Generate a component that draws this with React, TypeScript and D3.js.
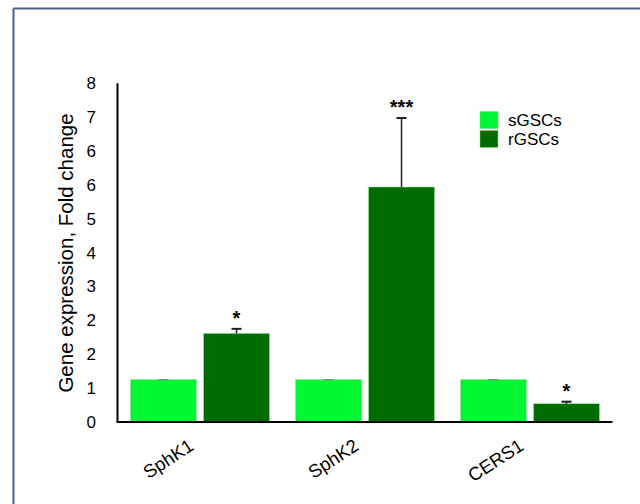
import React from "react";
import * as d3 from "d3";

const categories = ["SphK1", "SphK2", "CERS1"];
const seriesNames = ["sGSCs", "rGSCs"];
const sValues = [1.0, 1.0, 1.0];
const sErrors = [0.0, 0.0, 0.0];
const rValues = [2.09, 5.55, 0.43];
const rErrors = [0.11, 1.63, 0.05];
const rStars = ["*", "***", "*"];
const tickLabels = ["0", "1", "2", "2", "3", "4", "5", "6", "6", "7", "8"];
const tickStep = 0.8;
const colors = ["#00f731", "#006b00"];

const W = 640;
const H = 504;
const x0 = 117.5;
const x1 = 612.5;
const yTop = 83.3;
const yBot = 422;
const font = "'Liberation Sans', Arial, Helvetica, sans-serif";

export default function App() {
  const y = d3.scaleLinear().domain([0, 8]).range([yBot, yTop]);
  const xg = d3.scaleBand<string>().domain(categories).range([x0, x1]).paddingInner(0.159).paddingOuter(0.0795);
  const xs = d3.scaleBand<string>().domain(seriesNames).range([0, xg.bandwidth()]).paddingInner(0.1);
  const bw = xs.bandwidth();

  const seriesData = [
    { name: seriesNames[0], values: sValues, errors: sErrors, stars: null as string[] | null },
    { name: seriesNames[1], values: rValues, errors: rErrors, stars: rStars },
  ];

  return (
    <svg width={W} height={H} style={{ position: "absolute", left: 0, top: 0, background: "#fff" }} fontFamily={font}>
      {/* outer frame */}
      <line x1={13.5} y1={8.5} x2={W} y2={8.5} stroke="#4a6290" strokeWidth={2} />
      <line x1={13.5} y1={8.5} x2={13.5} y2={H} stroke="#4a6290" strokeWidth={2} />

      {/* bars */}
      {seriesData.map((s, si) =>
        categories.map((c, ci) => {
          const bx = (xg(c) as number) + (xs(s.name) as number);
          const v = s.values[ci];
          const e = s.errors[ci];
          const cx = bx + bw / 2;
          return (
            <g key={s.name + c}>
              <rect x={bx} y={y(v)} width={bw} height={yBot - y(v)} fill={colors[si]} stroke="#7fdc7f" strokeWidth={0.5} />
              <line x1={cx} x2={cx} y1={y(v)} y2={y(v + e)} stroke="#222" strokeWidth={1.5} />
              <line x1={cx - 5} x2={cx + 5} y1={y(v + e)} y2={y(v + e)} stroke={e > 0 ? "#222" : "#777"} strokeWidth={e > 0 ? 2 : 1} />
              {s.stars && (
                <text x={cx} y={y(v + e) - 4} textAnchor="middle" fontSize={20} fontWeight="bold" fill="#000">
                  {s.stars[ci]}
                </text>
              )}
            </g>
          );
        })
      )}

      {/* axes */}
      <line x1={x0} y1={yTop} x2={x0} y2={yBot} stroke="#000" strokeWidth={2} />
      <line x1={x0 - 1} y1={yBot} x2={x1} y2={yBot} stroke="#000" strokeWidth={2} />

      {tickLabels.map((t, i) => (
        <text key={i} x={96} y={y(i * tickStep)} dy="0.35em" textAnchor="end" fontSize={17} fill="#000">
          {t}
        </text>
      ))}

      <text transform={`translate(73,253) rotate(-90)`} textAnchor="middle" fontSize={20.5} fill="#000">
        Gene expression, Fold change
      </text>

      {categories.map((c) => {
        const cx = (xg(c) as number) + xg.bandwidth() / 2;
        return (
          <text key={c} transform={`translate(${cx - 5},${449}) rotate(-33)`} textAnchor="end" fontSize={18.5} fill="#000">
            {c}
          </text>
        );
      })}

      {/* legend */}
      {seriesNames.map((n, i) => (
        <g key={n} transform={`translate(480,${111.5 + i * 19})`}>
          <rect width={18} height={17} fill={colors[i]} stroke="#7fdc7f" strokeWidth={0.5} />
          <text x={28} y={8.5} dy="0.35em" fontSize={17} fill="#000">
            {n}
          </text>
        </g>
      ))}
    </svg>
  );
}
